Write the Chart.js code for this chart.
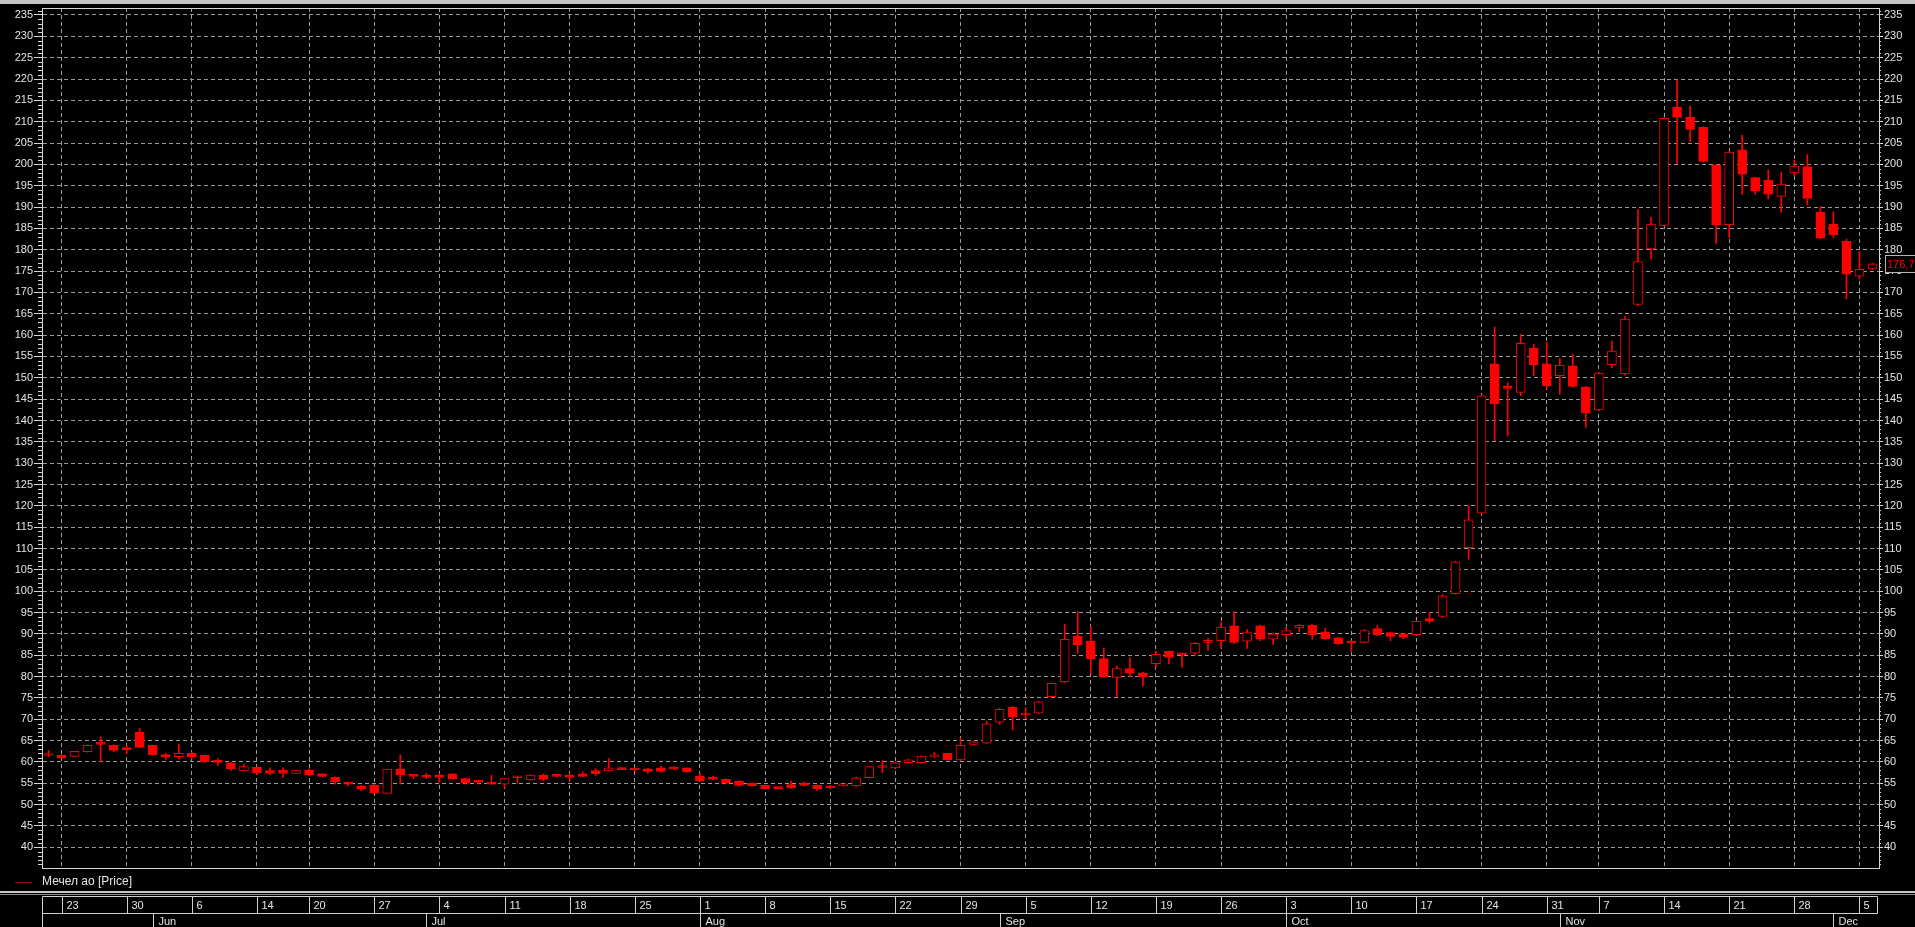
<!DOCTYPE html>
<html>
<head>
<meta charset="utf-8">
<title>Мечел ао</title>
<script src="https://cdn.jsdelivr.net/npm/chart.js@4.4.0/dist/chart.umd.min.js"></script>
<style>
    html, body { margin: 0; padding: 0; background: #000; overflow: hidden; }
    canvas { display: block; }
</style>
</head>
<body>
<canvas id="grafico" width="1915" height="927"></canvas>
<script>
// Trading days (2016), MM-DD
const tradingDays = [
    '05-20','05-23','05-24','05-25','05-26','05-27','05-30','05-31',
    '06-01','06-02','06-03','06-06','06-07','06-08','06-09','06-10','06-14','06-15','06-16','06-17',
    '06-20','06-21','06-22','06-23','06-24','06-27','06-28','06-29','06-30',
    '07-01','07-04','07-05','07-06','07-07','07-08','07-11','07-12','07-13','07-14','07-15',
    '07-18','07-19','07-20','07-21','07-22','07-25','07-26','07-27','07-28','07-29',
    '08-01','08-02','08-03','08-04','08-05','08-08','08-09','08-10','08-11','08-12',
    '08-15','08-16','08-17','08-18','08-19','08-22','08-23','08-24','08-25','08-26','08-29','08-30','08-31',
    '09-01','09-02','09-05','09-06','09-07','09-08','09-09','09-12','09-13','09-14','09-15','09-16',
    '09-19','09-20','09-21','09-22','09-23','09-26','09-27','09-28','09-29','09-30',
    '10-03','10-04','10-05','10-06','10-07','10-10','10-11','10-12','10-13','10-14',
    '10-17','10-18','10-19','10-20','10-21','10-24','10-25','10-26','10-27','10-28','10-31',
    '11-01','11-02','11-03','11-07','11-08','11-09','11-10','11-11','11-14','11-15','11-16','11-17','11-18',
    '11-21','11-22','11-23','11-24','11-25','11-28','11-29','11-30',
    '12-01','12-02','12-05','12-06'
];

const opens = [
    61.5, 61.6, 61.3, 62.4, 64.3, 63.9, 63.1, 67.0,
    63.9, 61.7, 61.25, 62.0, 61.6, 60.1, 59.8, 57.9, 58.75, 58.0, 58.1, 57.3,
    58.1, 57.2, 56.4, 54.9, 54.4, 54.5, 52.6, 58.4, 57.0,
    56.6, 56.9, 57.2, 56.1, 55.3, 54.9, 54.8, 56.3, 55.8, 56.9, 56.9,
    56.5, 57.2, 58.0, 57.9, 58.5, 58.2, 58.4, 58.6, 58.75, 58.6,
    56.6, 56.0, 55.9, 55.5, 55.0, 54.5, 54.2, 54.7, 55.0, 54.5,
    54.3, 54.4, 54.4, 56.3, 58.7, 58.6, 59.8, 59.8, 61.2, 62.0, 60.5, 64.1, 64.4,
    69.3, 72.8, 71.0, 71.4, 75.3, 78.75, 89.5, 88.3, 84.2, 79.8, 81.9, 80.9,
    83.0, 85.9, 85.2, 85.5, 88.0, 88.4, 91.9, 88.3, 91.9, 88.75,
    89.8, 91.4, 92.0, 90.5, 89.1, 88.3, 88.0, 91.25, 90.3, 90.0,
    89.8, 93.6, 94.1, 99.4, 110.2, 118.3, 153.3, 148.0, 146.6, 156.9, 153.3,
    150.5, 152.8, 147.8, 142.5, 153.1, 150.9, 167.2, 180.2, 185.7, 213.4, 211.0, 208.7, 199.9,
    185.9, 203.4, 196.9, 196.3, 192.5, 198.0, 199.5, 188.8,
    186.0, 182.0, 173.8, 175.5
];
const highs = [
    62.7, 61.7, 62.5, 64.0, 65.9, 64.0, 63.9, 67.8,
    63.9, 62.0, 64.2, 62.3, 61.6, 60.8, 59.9, 59.5, 58.8, 58.6, 58.6, 58.1,
    58.4, 57.2, 56.5, 55.3, 54.5, 54.8, 58.3, 61.7, 57.1,
    57.3, 57.3, 57.2, 56.2, 55.6, 56.9, 56.1, 56.6, 57.0, 57.2, 57.0,
    57.2, 57.7, 58.4, 60.8, 58.6, 58.6, 58.5, 59.1, 58.9, 58.6,
    57.3, 56.7, 56.0, 55.6, 55.1, 54.6, 54.2, 55.5, 55.3, 54.6,
    54.4, 54.6, 56.4, 58.9, 60.3, 59.9, 60.6, 61.4, 62.3, 62.0, 65.6, 64.8, 69.5,
    72.6, 73.0, 72.7, 74.2, 78.5, 92.2, 95.2, 91.7, 86.7, 82.5, 84.4, 81.0,
    85.9, 86.0, 85.3, 88.0, 88.9, 92.8, 95.2, 91.0, 92.0, 90.2,
    91.6, 92.2, 92.2, 91.3, 89.2, 88.4, 91.0, 92.0, 90.4, 90.1,
    93.1, 95.0, 99.2, 107.0, 120.0, 146.0, 161.9, 148.9, 160.2, 157.8, 158.3,
    154.5, 155.5, 148.0, 151.3, 158.6, 164.4, 189.4, 187.6, 211.0, 219.8, 213.7, 208.8, 200.0,
    203.0, 206.8, 197.0, 198.7, 198.2, 201.0, 202.3, 190.1,
    188.9, 182.5, 179.6, 176.8
];
const lows = [
    61.2, 60.8, 61.2, 62.3, 60.0, 62.4, 61.9, 63.3,
    61.6, 60.6, 60.7, 60.7, 59.9, 59.2, 58.0, 57.9, 57.0, 57.0, 56.4, 57.3,
    56.7, 56.6, 54.8, 54.4, 53.3, 52.6, 52.6, 54.8, 56.1,
    56.1, 55.2, 56.0, 54.8, 54.8, 54.7, 54.0, 55.0, 55.7, 55.6, 56.5,
    55.6, 56.5, 56.8, 57.9, 58.2, 57.9, 57.3, 57.6, 58.2, 57.6,
    55.5, 55.8, 55.0, 54.3, 54.3, 53.7, 53.75, 53.8, 54.4, 53.3,
    53.8, 54.3, 54.3, 56.2, 57.5, 58.4, 59.7, 59.6, 61.0, 60.4, 60.3, 64.0, 64.3,
    68.8, 67.5, 70.2, 71.3, 75.2, 78.6, 85.5, 80.6, 79.8, 75.3, 80.0, 77.8,
    82.2, 83.0, 82.2, 85.0, 86.1, 86.6, 87.7, 86.6, 88.4, 87.5,
    88.75, 90.5, 88.75, 88.75, 87.5, 85.9, 87.9, 89.6, 88.4, 88.9,
    89.6, 92.5, 93.8, 99.3, 107.5, 118.1, 135.3, 136.4, 145.8, 150.5, 147.5,
    146.1, 147.8, 138.4, 142.3, 152.3, 150.6, 166.9, 177.8, 185.6, 200.2, 205.2, 200.6, 181.5,
    182.9, 193.0, 193.0, 191.9, 188.8, 197.3, 190.5, 182.5,
    182.8, 168.5, 173.2, 175.4
];
const closes = [
    61.6, 60.9, 62.5, 63.9, 64.1, 62.7, 62.9, 63.4,
    61.7, 61.1, 62.0, 61.25, 60.0, 59.9, 58.4, 58.9, 57.5, 57.3, 57.3, 58.1,
    57.0, 56.6, 55.3, 54.8, 53.75, 52.7, 58.3, 57.0, 56.6,
    56.4, 56.4, 56.1, 55.1, 55.2, 54.8, 56.1, 56.5, 56.9, 55.9, 56.6,
    56.4, 56.6, 57.2, 58.6, 58.2, 58.1, 57.8, 57.8, 58.3, 57.7,
    55.6, 55.9, 55.0, 54.5, 54.4, 53.75, 53.75, 53.9, 54.5, 53.75,
    53.9, 54.5, 56.25, 58.9, 58.8, 59.8, 60.5, 61.4, 61.6, 60.5, 63.9, 64.7, 68.9,
    72.3, 70.6, 71.2, 74.1, 78.4, 88.75, 87.5, 84.2, 80.0, 81.9, 80.8, 80.0,
    85.2, 84.5, 85.1, 87.8, 88.1, 91.6, 88.0, 90.3, 88.75, 90.0,
    90.8, 92.0, 89.8, 88.9, 87.7, 87.8, 90.8, 89.8, 89.4, 89.2,
    93.0, 93.0, 98.9, 106.9, 116.7, 145.8, 143.9, 147.5, 158.1, 153.1, 148.1,
    153.0, 148.0, 141.7, 151.1, 156.25, 163.75, 177.2, 186.0, 210.8, 211.0, 208.2, 200.7, 185.9,
    202.9, 197.7, 193.7, 193.0, 195.4, 199.6, 192.0, 182.7,
    183.5, 174.3, 175.4, 176.7
];

const yTicks = [40, 45, 50, 55, 60, 65, 70, 75, 80, 85, 90, 95, 100, 105, 110, 115, 120, 125,
    130, 135, 140, 145, 150, 155, 160, 165, 170, 175, 180, 185, 190, 195, 200, 205, 210, 215,
    220, 225, 230, 235];
const monthNames = ['Jan', 'Feb', 'Mar', 'Apr', 'May', 'Jun', 'Jul', 'Aug', 'Sep', 'Oct', 'Nov', 'Dec'];
const seriesName = 'Мечел ао [Price]';

const VERMELHO = '#ff0000';
const GRADE = '#9a9a9a';
const EIXO = '#d6d6d6';
const TEXTO = '#e4e4e4';
const FONTE = '"Liberation Sans", Arial, sans-serif';

// first trading day of each week -> vertical grid line + day label
const diaSemana = tradingDays.map(d => new Date(2016, parseInt(d.slice(0, 2)) - 1, parseInt(d.slice(3))).getDay());
const inicioSemana = tradingDays.map((d, i) => i > 0 && diaSemana[i] < diaSemana[i - 1]);
const inicioMes = tradingDays.map((d, i) => i > 0 && d.slice(0, 2) !== tradingDays[i - 1].slice(0, 2));

const corpos = opens.map((o, i) => [o, closes[i]]);
const pavioAlto = opens.map((o, i) => [Math.max(o, closes[i]), highs[i]]);
const pavioBaixo = opens.map((o, i) => [lows[i], Math.min(o, closes[i])]);

const Y_MIN = 35.15, Y_MAX = 236.64;

// decorations: frame, minor ticks, legend, date bar, last price box
const decoracao = {
    id: 'decoracao',
    beforeDraw(chart) {
        const ctx = chart.ctx;
        ctx.save();
        ctx.fillStyle = '#000';
        ctx.fillRect(0, 0, chart.width, chart.height);
        ctx.restore();
    },
    afterDraw(chart) {
        const ctx = chart.ctx;
        const area = chart.chartArea;
        const x = chart.scales.x;
        const y = chart.scales.y;
        ctx.save();

        // top grey strip
        ctx.fillStyle = '#c4c4c4';
        ctx.fillRect(0, 0, chart.width, 4);

        // frame top line
        ctx.strokeStyle = EIXO;
        ctx.lineWidth = 1;
        ctx.beginPath();
        ctx.moveTo(area.left, Math.round(area.top) + 0.5);
        ctx.lineTo(area.right, Math.round(area.top) + 0.5);
        ctx.stroke();

        // minor ticks every 1
        ctx.beginPath();
        for (let v = Math.ceil(Y_MIN); v <= Math.floor(Y_MAX); v++) {
            if (v % 5 === 0) continue;
            const py = Math.round(y.getPixelForValue(v)) + 0.5;
            ctx.moveTo(area.left - 4, py);
            ctx.lineTo(area.left, py);
            ctx.moveTo(area.right, py);
            ctx.lineTo(area.right + 2, py);
        }
        ctx.stroke();

        // legend
        ctx.strokeStyle = '#8a1010';
        ctx.beginPath();
        ctx.moveTo(15, 882.5);
        ctx.lineTo(32, 882.5);
        ctx.stroke();
        ctx.fillStyle = TEXTO;
        ctx.font = '12px ' + FONTE;
        ctx.textBaseline = 'middle';
        ctx.textAlign = 'left';
        ctx.fillText(seriesName, 42, 882);

        // separator
        ctx.fillStyle = '#c8c8c8';
        ctx.fillRect(0, 891, chart.width, 2);
        ctx.fillStyle = '#8c8c8c';
        ctx.fillRect(0, 894, chart.width, 1);

        // date bar
        ctx.font = '11px ' + FONTE;
        const esq = 42.5, dir = 1877.5;
        ctx.strokeStyle = '#cfcfcf';
        ctx.beginPath();
        ctx.moveTo(esq, 896.5); ctx.lineTo(dir, 896.5);
        ctx.moveTo(esq, 913.5); ctx.lineTo(dir, 913.5);
        ctx.moveTo(esq, 896.5); ctx.lineTo(esq, chart.height);
        ctx.moveTo(dir, 896.5); ctx.lineTo(dir, 913.5);
        ctx.stroke();

        ctx.fillStyle = TEXTO;
        tradingDays.forEach((d, i) => {
            const px = Math.round(x.getPixelForValue(i)) + 0.5;
            if (inicioSemana[i]) {
                ctx.beginPath();
                ctx.moveTo(px, 896.5); ctx.lineTo(px, 913.5);
                ctx.stroke();
                ctx.fillText(String(parseInt(d.slice(3))), px + 4, 905.5);
            }
            if (inicioMes[i]) {
                ctx.beginPath();
                ctx.moveTo(px, 913.5); ctx.lineTo(px, chart.height);
                ctx.stroke();
                ctx.fillText(monthNames[parseInt(d.slice(0, 2)) - 1], px + 5, 921.5);
            }
        });

        // last price box
        const ultimo = closes[closes.length - 1];
        const py = Math.round(y.getPixelForValue(ultimo));
        ctx.strokeStyle = '#b4b4b4';
        ctx.strokeRect(1885.5, py - 8.5, 40, 17);
        ctx.fillStyle = '#000';
        ctx.fillRect(1886, py - 8, 40, 16);
        ctx.fillStyle = VERMELHO;
        ctx.fillText(ultimo.toFixed(1).replace('.', ','), 1887, py + 0.5);

        ctx.restore();
    }
};

const eixoY = (posicao, largura, tamanhoTick, naArea) => ({
    position: posicao,
    min: Y_MIN,
    max: Y_MAX,
    afterBuildTicks: s => { s.ticks = yTicks.map(v => ({ value: v })); },
    afterFit: s => { s.width = largura; },
    ticks: {
        color: TEXTO,
        font: { family: FONTE, size: 11 },
        padding: 1,
        callback: v => String(v)
    },
    grid: {
        drawOnChartArea: naArea,
        color: GRADE,
        tickColor: EIXO,
        tickLength: tamanhoTick,
        tickBorderDash: []
    },
    border: { display: true, color: EIXO, dash: [4, 3] }
});

new Chart(document.getElementById('grafico').getContext('2d'), {
    type: 'bar',
    data: {
        labels: tradingDays,
        datasets: [
            {
                label: 'upper wick',
                data: pavioAlto,
                backgroundColor: VERMELHO,
                borderWidth: 0,
                barThickness: 1,
                grouped: false
            },
            {
                label: 'lower wick',
                data: pavioBaixo,
                backgroundColor: VERMELHO,
                borderWidth: 0,
                barThickness: 1,
                grouped: false
            },
            {
                label: seriesName,
                data: corpos,
                backgroundColor: c => closes[c.dataIndex] > opens[c.dataIndex] ? '#000000' : VERMELHO,
                borderColor: VERMELHO,
                borderWidth: 1,
                borderSkipped: false,
                barThickness: 9,
                minBarLength: 2,
                grouped: false
            }
        ]
    },
    options: {
        responsive: false,
        animation: false,
        devicePixelRatio: 1,
        layout: { padding: { top: 8, left: 0, right: 0, bottom: 0 } },
        plugins: {
            legend: { display: false },
            tooltip: { enabled: false }
        },
        scales: {
            x: {
                type: 'category',
                offset: true,
                afterFit: s => { s.height = 59; },
                ticks: { display: false, autoSkip: false },
                grid: {
                    offset: false,
                    drawTicks: false,
                    color: c => inicioSemana[c.index] ? GRADE : 'rgba(0,0,0,0)'
                },
                border: { display: true, color: EIXO, dash: [4, 3] }
            },
            y: eixoY('left', 42, 8, true),
            y2: eixoY('right', 36, 4, false)
        }
    },
    plugins: [decoracao]
});
</script>
</body>
</html>
